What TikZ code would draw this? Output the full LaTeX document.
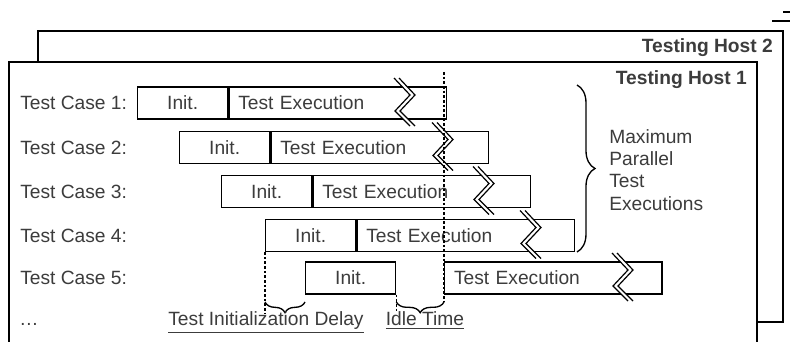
\documentclass[tikz,border=0pt]{standalone}
\usepackage{fontspec}
\setmainfont{Liberation Sans}
\usepackage{tikz}
\usetikzlibrary{positioning}
\usetikzlibrary{calc}
\usetikzlibrary{decorations.pathreplacing}
\definecolor{txtgray}{HTML}{3C3C3C}
\newcommand{\tcfont}{\fontsize{14.4}{16.6}\selectfont}
\newcommand{\tcbreak}[2]{% double zigzag cut of a long bar
	\fill[white] (#1,#2-25) -- (#1+16,#2-8) -- (#1+1,#2+8) -- (#1+16,#2+23) -- (#1+21,#2+23) -- (#1+6,#2+8) -- (#1+21,#2-8) -- (#1+5,#2-25) -- cycle ;
	\draw[line width=0.9pt] (#1,#2-25) -- (#1+16,#2-8) -- (#1+1,#2+8) -- (#1+16,#2+23) ;
	\draw[line width=0.9pt] (#1+5,#2-25) -- (#1+21,#2-8) -- (#1+6,#2+8) -- (#1+21,#2+23) ;}
\tikzset{
	bar/.style={draw, line width=1pt, minimum height=24pt, inner sep=0pt, anchor=west},
	initbox/.style={bar, minimum width=67.5pt},
	execbox/.style={bar, text width=149pt, inner xsep=7pt, align=left},
	caselabel/.style={anchor=base west, inner sep=0pt},
	hostlabel/.style={anchor=base east, inner sep=0pt, font=\tcfont\bfseries},
	tline/.style={dash pattern=on 2pt off 1.5pt, line width=0.8pt},
	tbrace/.style={decorate, decoration={brace, amplitude=8pt}, line width=1pt},
}

\begin{document}
\begin{tikzpicture}[x=0.75pt, y=-0.75pt, every node/.style={text=txtgray, font=\tcfont}]
			\useasboundingbox (0,0) rectangle (790,342) ;
			\draw[line width=0.8pt] (772,21) -- (790,21) ; \draw[line width=0.8pt] (783,12) -- (790,12) ;
			% the two hosts, host 1 runs off the bottom
			\draw[line width=1.1pt, fill=white] (38,31) rectangle (783,322) ;
			\node[hostlabel] at (773,53) (host2) {Testing Host 2} ;
			\fill[white] (9,62) rectangle (757,350) ; \draw[line width=1.1pt] (9,350) |- (757,62) -- (757,350) ;
			\node[hostlabel] at (747,85) (host1) {Testing Host 1} ;
			% test cases
			\node[caselabel] at (20,110) (tc1) {Test Case 1:} ;
			\node[caselabel] at (20,154.5) (tc2) {Test Case 2:} ;
			\node[caselabel] at (20,198.5) (tc3) {Test Case 3:} ;
			\node[caselabel] at (20,242.5) (tc4) {Test Case 4:} ;
			\node[caselabel] at (20,285) (tc5) {Test Case 5:} ;
			\node[caselabel] at (19,326) (more) {…} ;
			\node[initbox] at (137,103) (init1) {Init.} ; \node[execbox] at (init1.east) (exec1) {Test Execution} ;
			\node[initbox] at (179,147.5) (init2) {Init.} ; \node[execbox] at (init2.east) (exec2) {Test Execution} ;
			\node[initbox] at (221,191.5) (init3) {Init.} ; \node[execbox] at (init3.east) (exec3) {Test Execution} ;
			\node[initbox] at (265,235.5) (init4) {Init.} ; \node[execbox] at (init4.east) (exec4) {Test Execution} ;
			\node[initbox] at (305,278) (init5) {Init.} ; \node[execbox] at (444,278) (exec5) {Test Execution} ;
			\tcbreak{394}{103} \tcbreak{432}{147.5} \tcbreak{473}{191.5} \tcbreak{520}{235.5} \tcbreak{612}{278}
			% delay and idle time
			\coordinate (idletop) at (444,72) ; \coordinate (idlebot) at (444,302) ;
			\draw[tline] (idletop) -- (idlebot) ;
			\draw[tline] (init4.south west) -- (init4.west |- 0,313) ;
			\draw[tline] (init5.south east) -- (init5.east |- 0,313) ;
			\draw[tbrace] (init5.west |- idlebot) -- (init4.west |- idlebot) ;
			\draw[tbrace] (idlebot) -- (init5.east |- idlebot) ;
			\node[anchor=base] at (266,326) (delaylbl) {\underline{Test Initialization Delay}} ;
			\node[anchor=base] at (425,326) (idlelbl) {\underline{Idle Time}} ;
			% parallel executions
			\coordinate (maxtop) at (577,85) ; \coordinate (maxbot) at (577,252) ;
			\draw[tbrace, decoration={amplitude=13.5pt}] (maxtop) -- (maxbot) ;
			\node[anchor=west, align=left, inner sep=0pt] at (609,170) (maxlbl) {Maximum\\Parallel\\Test\\Executions} ;
\end{tikzpicture}
\end{document}
